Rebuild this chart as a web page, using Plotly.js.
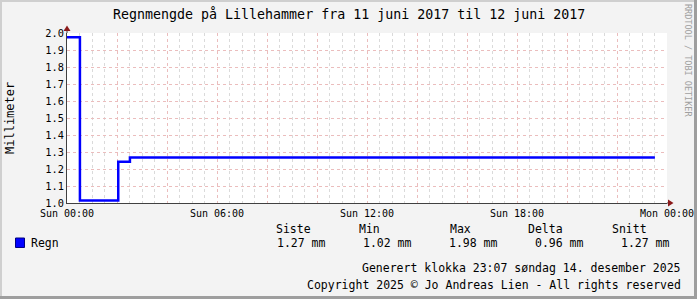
<!DOCTYPE html>
<html>
<head>
<meta charset="utf-8">
<script src="https://cdn.plot.ly/plotly-3.0.1.min.js"></script>
<style>
html,body{margin:0;padding:0;background:#F3F3F3;}
#chart{width:697px;height:299px;}
</style>
</head>
<body>
<div id="chart"></div>
<script>
// ---- data ----
const seriesName = "Regn";
const times = ["2017-06-11 00:00", "2017-06-11 00:31", "2017-06-11 02:03", "2017-06-11 02:31", "2017-06-11 23:31"];
const values = [1.975, 1.015, 1.243, 1.268, 1.268];
const statHeaders = ["Siste", "Min", "Max", "Delta", "Snitt"];
const statValues = [1.27, 1.02, 1.98, 0.96, 1.27];
const unit = "mm";
const tickTimes = ["2017-06-11 00:00","2017-06-11 02:00","2017-06-11 04:00","2017-06-11 06:00","2017-06-11 08:00","2017-06-11 10:00","2017-06-11 12:00","2017-06-11 14:00","2017-06-11 16:00","2017-06-11 18:00","2017-06-11 20:00","2017-06-11 22:00","2017-06-12 00:00"];
const tickLabels = ["Sun 00:00","","","Sun 06:00","","","Sun 12:00","","","Sun 18:00","","","Mon 00:00"];
const yTickVals = [1.0,1.1,1.2,1.3,1.4,1.5,1.6,1.7,1.8,1.9,2.0];
const titleText = "Regnmengde på Lillehammer fra 11 juni 2017 til 12 juni 2017";
const yTitle = "Millimeter";
const generatedText = "Generert klokka 23:07 søndag 14. desember 2025";
const copyrightText = "Copyright 2025 © Jo Andreas Lien - All rights reserved";
const watermark = "RRDTOOL / TOBI OETIKER";

// ---- layout helpers (pixel -> paper) ----
const W = 697, H = 299, L = 67, R = 667, T = 33, B = 203;
const px = x => (x - L) / (R - L);
const py = y => (B - y) / (B - T);
const FONT = "DejaVu Sans Mono";

const trace = {
  x: times, y: values, type: "scatter", mode: "lines",
  line: {shape: "hv", color: "#0000FF", width: 2.5},
  name: seriesName, showlegend: false, hoverinfo: "skip"
};

const ann = [];
function text(t, x, y, anchor, size, color, angle) {
  ann.push({text: t, xref: "paper", yref: "paper", x: px(x), y: py(y),
    xanchor: anchor, yanchor: "middle", showarrow: false,
    textangle: angle || 0, borderpad: 0,
    font: {family: FONT, size: size, color: color || "#000"}});
}
text(titleText, 348.5, 14, "center", 13.3);
text(yTitle, 10, 118, "center", 12, "#000", -90);
text(watermark, 688, 60, "center", 8.5, "#a0a0a0", 90);
text(seriesName, 30, 243, "left", 11.5);
const headX = [275, 358, 449, 527, 611];
const valX = [276, 362, 448, 534, 620];
statHeaders.forEach((h, i) => text(h, headX[i], 229, "left", 11.5));
statValues.forEach((v, i) => text(v.toFixed(2) + " " + unit, valX[i], 243, "left", 11.5));
text(generatedText, 682, 268, "right", 11.5);
text(copyrightText, 682, 285, "right", 11.5);

const shapes = [
  // legend swatch
  {type: "rect", xref: "paper", yref: "paper", x0: px(15.5), x1: px(24.5), y0: py(247.5), y1: py(238), fillcolor: "#0000FF", line: {color: "#000080", width: 1}},
  // axis extensions
  {type: "line", xref: "paper", yref: "paper", x0: 1, x1: px(669), y0: 0, y1: 0, line: {color: "#404040", width: 1}},
  {type: "line", xref: "paper", yref: "paper", x0: 0, x1: 0, y0: 1, y1: py(30), line: {color: "#404040", width: 1}},
  // arrows
  {type: "path", xref: "paper", yref: "paper", path: `M ${px(668)} ${py(199.5)} L ${px(673.5)} ${py(203)} L ${px(668)} ${py(206.5)} Z`, fillcolor: "#8B1A1A", line: {width: 0}},
  {type: "path", xref: "paper", yref: "paper", path: `M ${px(63.5)} ${py(31)} L ${px(67)} ${py(25.5)} L ${px(70.5)} ${py(31)} Z`, fillcolor: "#8B1A1A", line: {width: 0}},
  // 3D frame
  {type: "rect", xref: "paper", yref: "paper", x0: px(0), x1: px(2), y0: py(299), y1: py(0), fillcolor: "#CFCFCF", line: {width: 0}},
  {type: "rect", xref: "paper", yref: "paper", x0: px(0), x1: px(697), y0: py(2), y1: py(0), fillcolor: "#CFCFCF", line: {width: 0}},
  {type: "rect", xref: "paper", yref: "paper", x0: px(694), x1: px(697), y0: py(299), y1: py(0), fillcolor: "#9E9E9E", line: {width: 0}},
  {type: "rect", xref: "paper", yref: "paper", x0: px(0), x1: px(697), y0: py(299), y1: py(296), fillcolor: "#9E9E9E", line: {width: 0}}
];

const layout = {
  width: W, height: H,
  margin: {l: L, r: W - R, t: T, b: H - B, pad: 0},
  paper_bgcolor: "#F3F3F3", plot_bgcolor: "#FFFFFF",
  showlegend: false,
  xaxis: {
    type: "date", range: ["2017-06-11 00:00", "2017-06-12 00:00"],
    tickmode: "array", tickvals: tickTimes, ticktext: tickLabels,
    showgrid: true, gridcolor: "#EBBDBD", griddash: "dot", gridwidth: 1,
    minor: {dtick: 1800000, tick0: "2017-06-11 00:00", showgrid: true, gridcolor: "#DADADA", griddash: "dot", gridwidth: 1},
    showline: true, linecolor: "#404040", linewidth: 1, zeroline: false,
    ticks: "", ticklabelstandoff: 1, tickfont: {family: FONT, size: 10, color: "#000"},
    fixedrange: true
  },
  yaxis: {
    range: [1.0, 2.0], tickmode: "array", tickvals: yTickVals,
    ticktext: yTickVals.map(v => v.toFixed(1)),
    showgrid: true, gridcolor: "#EBBDBD", griddash: "dot", gridwidth: 1,
    showline: true, linecolor: "#404040", linewidth: 1, zeroline: false,
    ticks: "", tickfont: {family: FONT, size: 10.3, color: "#000"},
    fixedrange: true
  },
  annotations: ann,
  shapes: shapes
};

Plotly.newPlot("chart", [trace], layout, {displayModeBar: false, staticPlot: true});
</script>
</body>
</html>
